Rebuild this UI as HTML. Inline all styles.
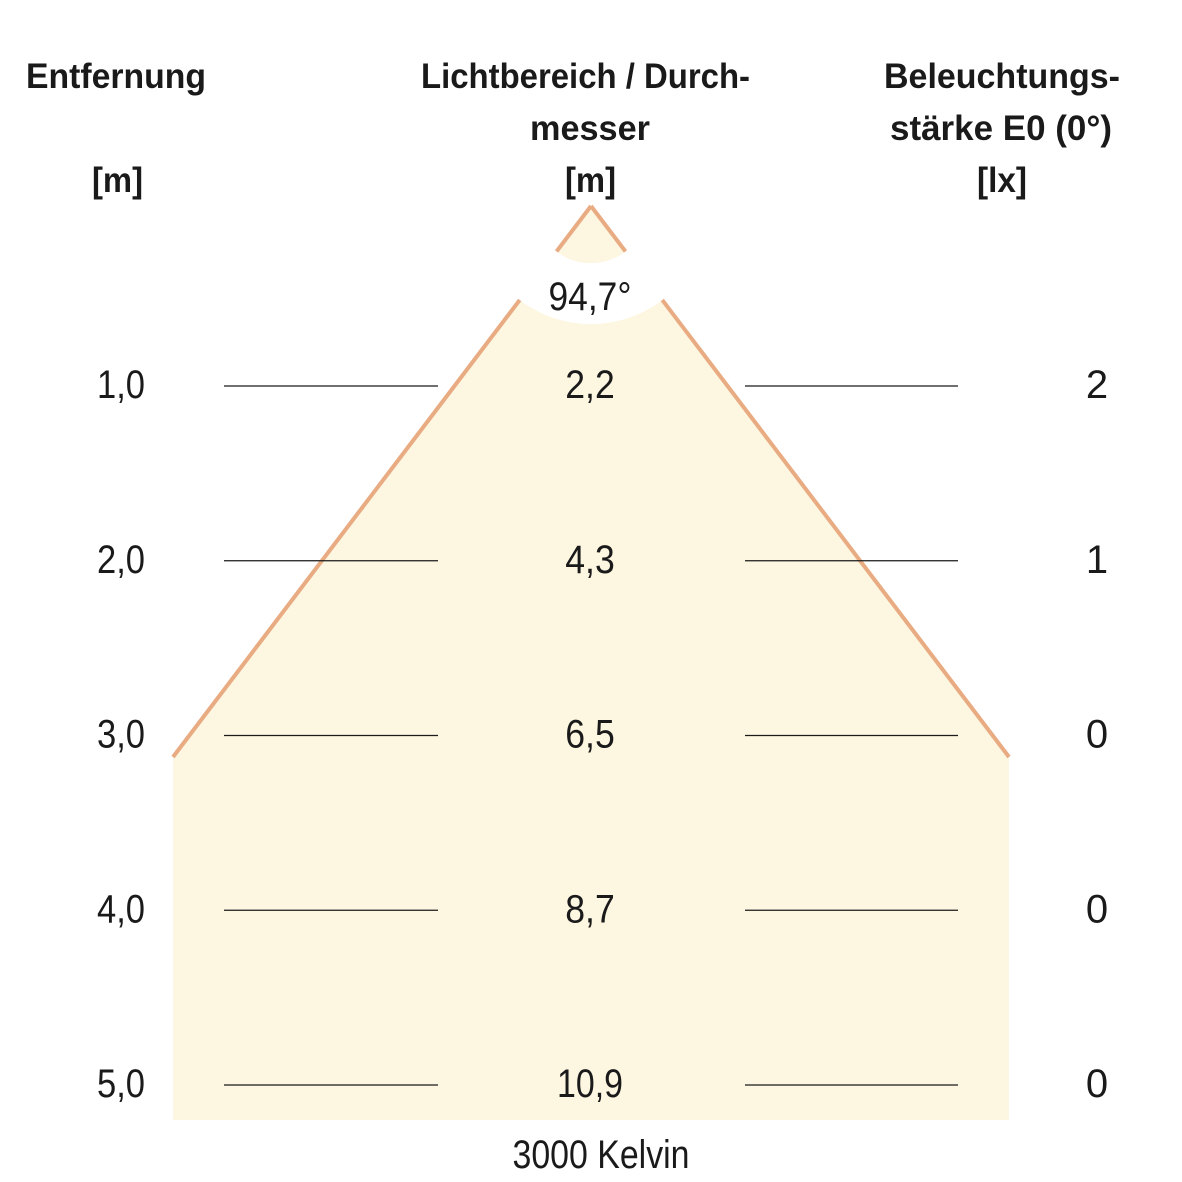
<!DOCTYPE html>
<html><head><meta charset="utf-8"><style>
html,body{margin:0;padding:0;background:#fff;width:1182px;height:1182px;overflow:hidden}
svg{display:block}
text{font-family:"Liberation Sans Narrow","Liberation Sans",sans-serif;fill:#1a1a1a}
.h{font-weight:bold;font-size:35px}
.n{font-size:40px}
</style></head><body>
<svg id="c" width="1182" height="1182" viewBox="0 0 1182 1182">
<g>
<text class="h" x="26" y="88" textLength="180" lengthAdjust="spacingAndGlyphs">Entfernung</text>
<text class="h" x="92" y="192" textLength="51" lengthAdjust="spacingAndGlyphs">[m]</text>
<text class="h" x="421" y="88" textLength="329" lengthAdjust="spacingAndGlyphs">Lichtbereich / Durch-</text>
<text class="h" x="530" y="140" textLength="120" lengthAdjust="spacingAndGlyphs">messer</text>
<text class="h" x="565" y="192" textLength="51" lengthAdjust="spacingAndGlyphs">[m]</text>
<text class="h" x="884" y="88" textLength="236" lengthAdjust="spacingAndGlyphs">Beleuchtungs-</text>
<text class="h" x="890" y="140" textLength="222" lengthAdjust="spacingAndGlyphs">stärke E0 (0°)</text>
<text class="h" x="977" y="192" textLength="50" lengthAdjust="spacingAndGlyphs">[lx]</text>
</g>
<polygon points="591,206 173,757 173,1120 1009,1120 1009,757" fill="#fdf6e0"/>
<line x1="591" y1="206" x2="173" y2="757" stroke="#e8ab82" stroke-width="4"/>
<line x1="591" y1="206" x2="1009" y2="757" stroke="#e8ab82" stroke-width="4"/>
<path id="band" fill="#fff"/>
<text class="n" x="590" y="310" text-anchor="middle" textLength="83" lengthAdjust="spacingAndGlyphs">94,7°</text>
<g id="rows"></g>
<text class="n" x="601" y="1168" text-anchor="middle" textLength="177" lengthAdjust="spacingAndGlyphs">3000 Kelvin</text>
</svg>
<script>
const distances=["1,0","2,0","3,0","4,0","5,0"];
const distanceValues=[1,2,3,4,5];
const diameters=["2,2","4,3","6,5","8,7","10,9"];
const illuminance=["2","1","0","0","0"];
const ns="http://www.w3.org/2000/svg";
const y=d=>386+(d-1)*174.75;
(function(){
  const cx=591,cy=206,r1=57,r2=118,a0=20*Math.PI/180,a1=160*Math.PI/180;
  const p=(r,a)=>(cx+r*Math.cos(a)).toFixed(1)+" "+(cy+r*Math.sin(a)).toFixed(1);
  document.getElementById('band').setAttribute('d',`M ${p(r1,a0)} A ${r1} ${r1} 0 0 1 ${p(r1,a1)} L ${p(r2,a1)} A ${r2} ${r2} 0 0 0 ${p(r2,a0)} Z`);
})();
const g=document.getElementById('rows');
function t(x,yy,s,anchor,w){const e=document.createElementNS(ns,'text');e.setAttribute('x',x);e.setAttribute('y',yy);e.setAttribute('class','n');e.setAttribute('text-anchor',anchor);if(w){e.setAttribute('textLength',w);e.setAttribute('lengthAdjust','spacingAndGlyphs');}e.textContent=s;g.appendChild(e);return e;}
function l(x1,x2,yy){const e=document.createElementNS(ns,'line');e.setAttribute('x1',x1);e.setAttribute('x2',x2);e.setAttribute('y1',yy);e.setAttribute('y2',yy);e.setAttribute('stroke','#1a1a1a');e.setAttribute('stroke-width','1.2');g.appendChild(e);return e;}
distanceValues.forEach((d,i)=>{
  const yy=y(d);
  let e=t(121,yy+12,distances[i],'middle',48);
  
  
  e=t(590,yy+12,diameters[i],'middle',diameters[i].length*16.5);
  
  
  e=t(1097,yy+12,illuminance[i],'middle',null);
  
  
  e=l(224,438,yy);
  
  
  e=l(745,958,yy);
  
  
});
</script>
</body></html>
